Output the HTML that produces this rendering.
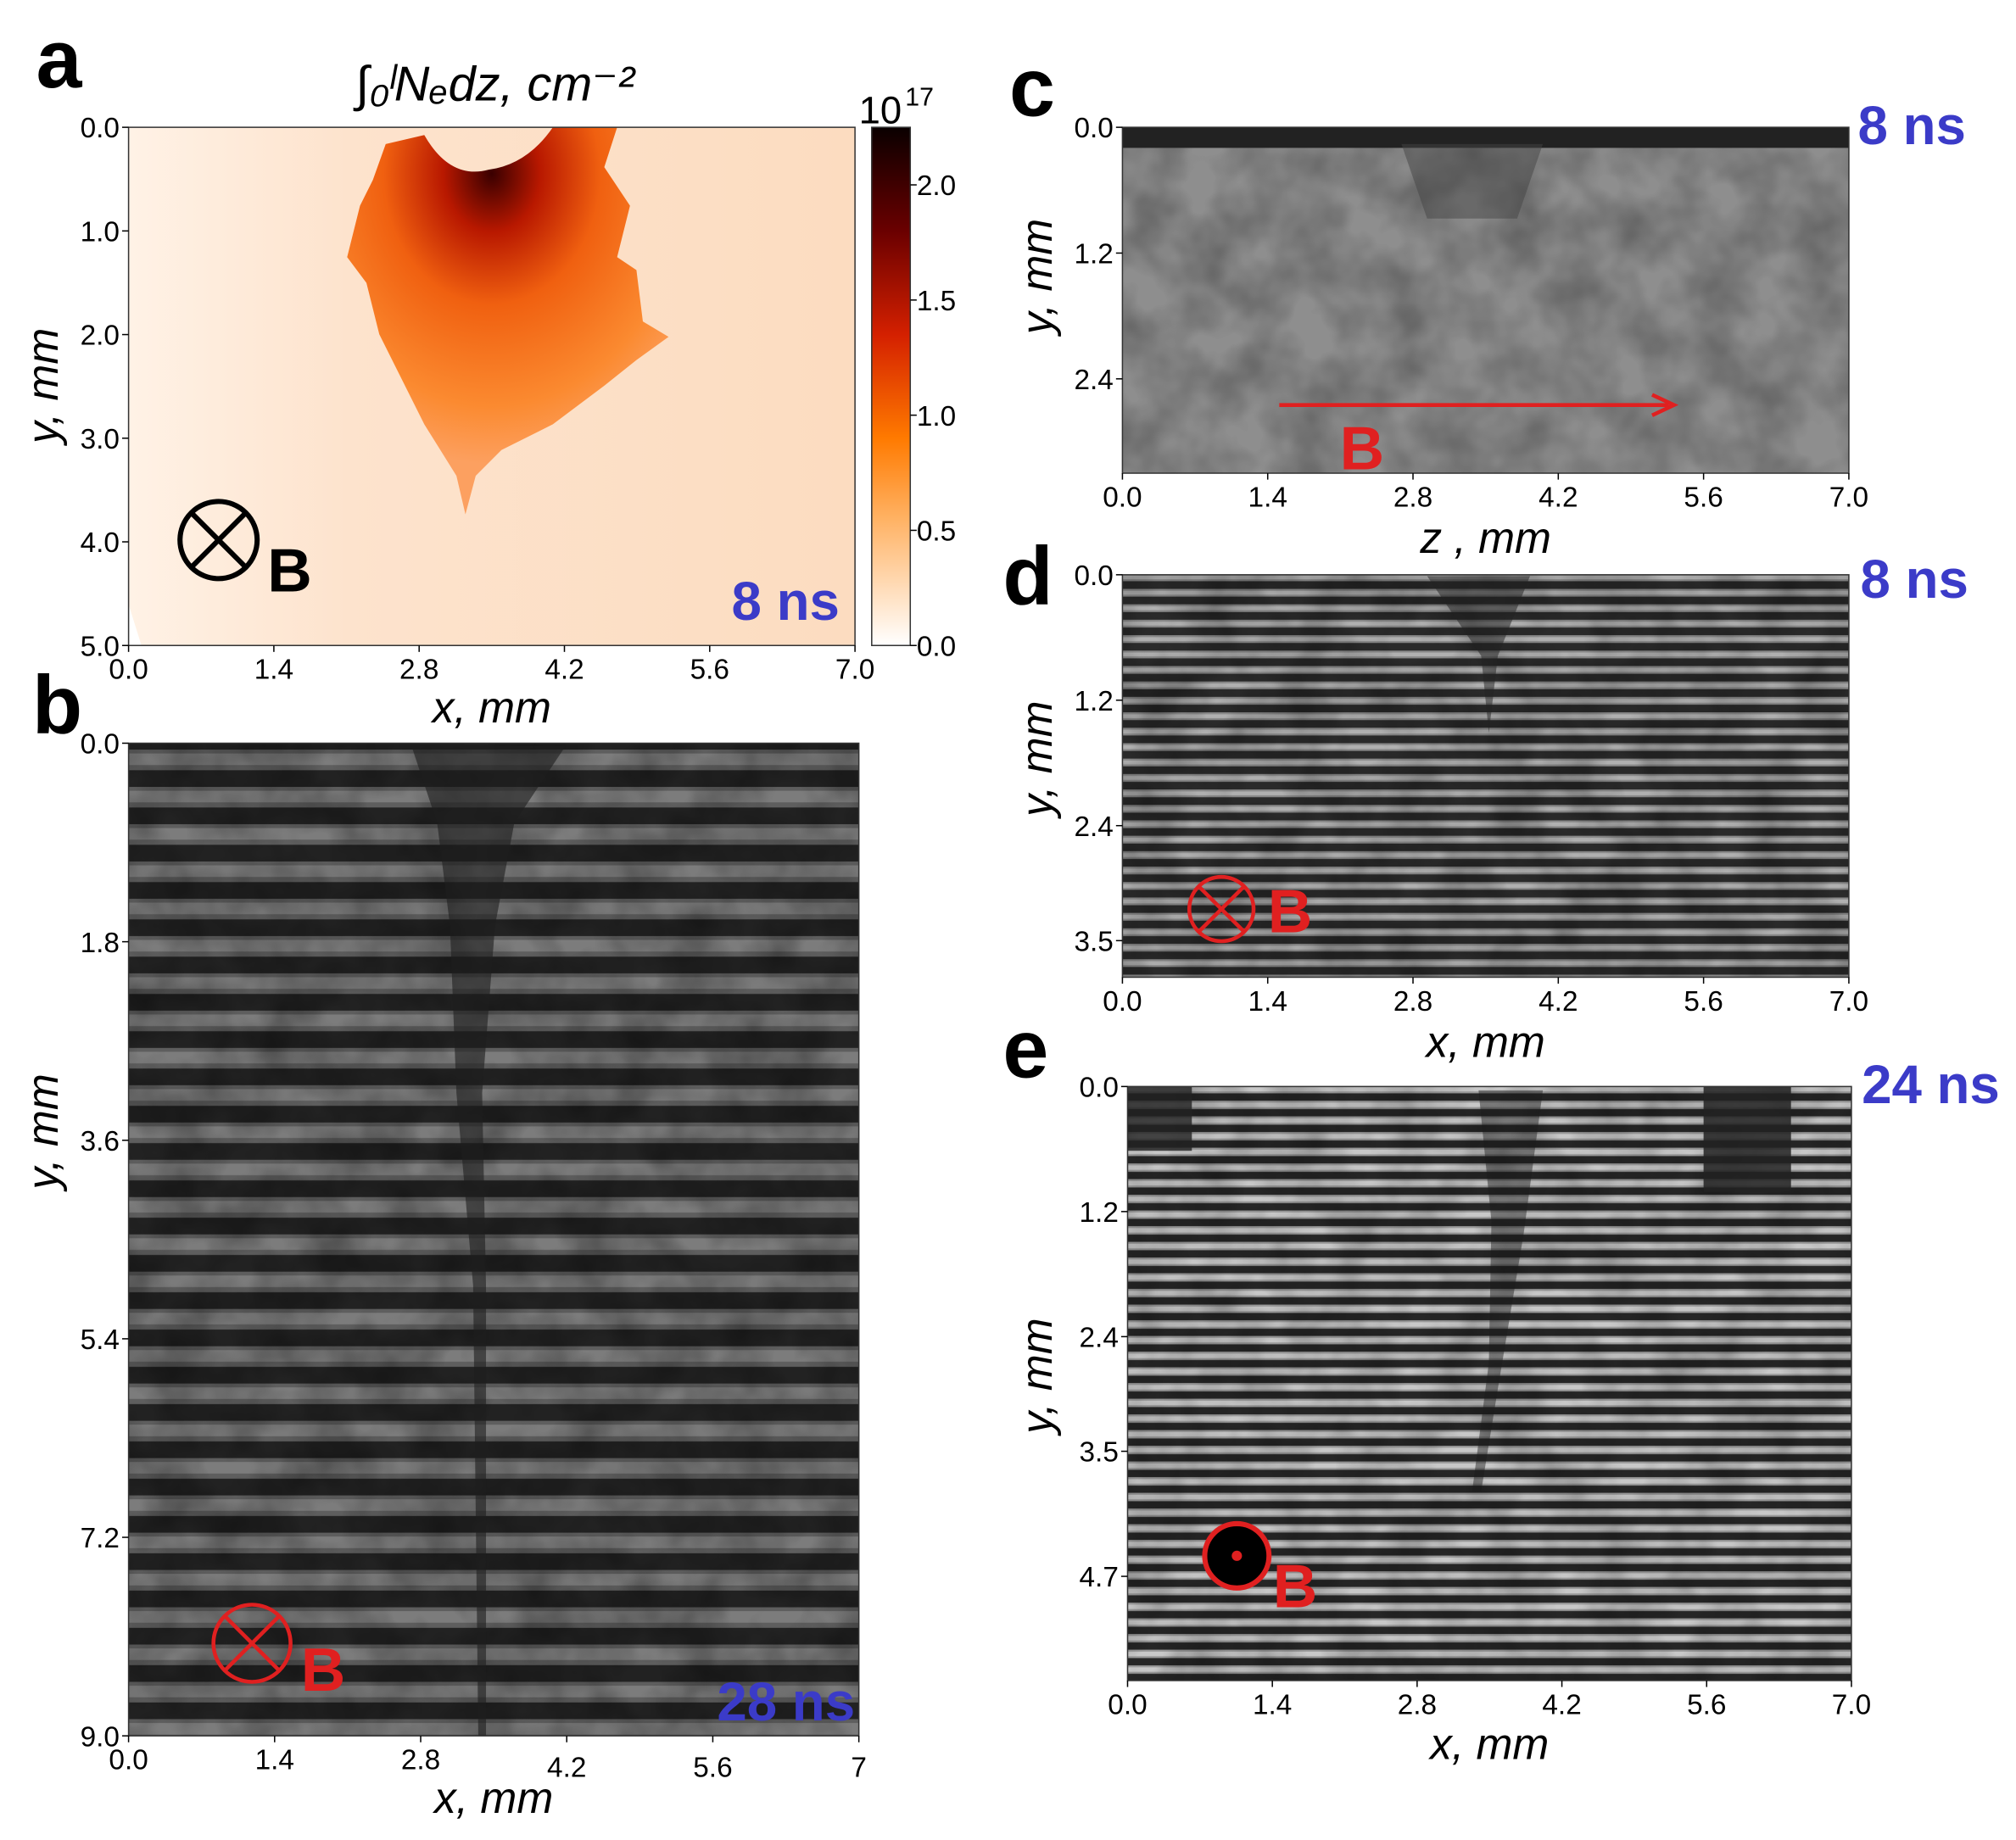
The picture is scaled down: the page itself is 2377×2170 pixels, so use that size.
<!DOCTYPE html>
<html><head><meta charset="utf-8"><style>
html,body{margin:0;padding:0;background:#fff}
svg{display:block}
text{font-family:"Liberation Sans","DejaVu Sans",sans-serif}
</style></head><body>
<svg id="fig" width="2377" height="2170" viewBox="0 0 1568 1431" preserveAspectRatio="none" xmlns="http://www.w3.org/2000/svg">
<defs>
  <linearGradient id="cbar" x1="0" y1="1" x2="0" y2="0">
    <stop offset="0" stop-color="#ffffff"/><stop offset="0.25" stop-color="#ffb060"/>
    <stop offset="0.4" stop-color="#ff7a00"/><stop offset="0.6" stop-color="#d42000"/>
    <stop offset="0.8" stop-color="#6a0000"/><stop offset="1" stop-color="#0a0000"/>
  </linearGradient>
  <radialGradient id="blob" cx="0.45" cy="0.12" r="0.75">
    <stop offset="0" stop-color="#3a0000"/><stop offset="0.2" stop-color="#b81800"/>
    <stop offset="0.45" stop-color="#f06010"/><stop offset="0.8" stop-color="#fb8a30"/>
    <stop offset="1" stop-color="#fca060"/>
  </radialGradient>
  <linearGradient id="bgA" x1="0" y1="0" x2="1" y2="0">
    <stop offset="0" stop-color="#fff2e6"/><stop offset="0.3" stop-color="#fde3cd"/><stop offset="1" stop-color="#fcdcc0"/>
  </linearGradient>
  <pattern id="fb" width="40" height="29" patternUnits="userSpaceOnUse">
    <rect width="40" height="29" fill="#222"/><rect y="3" width="40" height="16" fill="#5e5e5e"/><rect y="6" width="40" height="9" fill="#7c7c7c"/>
  </pattern>
  <pattern id="fd" width="40" height="12" patternUnits="userSpaceOnUse">
    <rect width="40" height="12" fill="#2a2a2a"/><rect y="2" width="40" height="6" fill="#8a8a8a"/><rect y="3.5" width="40" height="3" fill="#b0b0b0"/>
  </pattern>
  <pattern id="fe" width="40" height="12.2" patternUnits="userSpaceOnUse">
    <rect width="40" height="12.2" fill="#262626"/><rect y="2" width="40" height="6.5" fill="#9a9a9a"/><rect y="3.5" width="40" height="3.5" fill="#c8c8c8"/>
  </pattern>
  <filter id="mott2" x="0" y="0" width="1" height="1"><feTurbulence type="fractalNoise" baseFrequency="0.025" numOctaves="3" seed="7"/><feColorMatrix type="matrix" values="0 0 0 0 0 0 0 0 0 0 0 0 0 0 0 1.6 0 0 0 -0.45"/></filter>
</defs>
<g id="root"></g>
</svg>
<script>
const NS="http://www.w3.org/2000/svg";
const root=document.getElementById('root');
// data arrays
const xTicks=[0.0,1.4,2.8,4.2,5.6,7.0];
const xTickLabelsB=['0.0','1.4','2.8','4.2','5.6','7'];
const aYTicks=[0.0,1.0,2.0,3.0,4.0,5.0];
const cbTicks=[0.0,0.5,1.0,1.5,2.0];
const bYTicks=[0.0,1.8,3.6,5.4,7.2,9.0];
const cYTicks=[0.0,1.2,2.4];
const dYTicks=[0.0,1.2,2.4,3.5];
const eYTicks=[0.0,1.2,2.4,3.5,4.7];

function el(tag,attrs,parent,txt){const e=document.createElementNS(NS,tag);for(const k in attrs)e.setAttribute(k,attrs[k]);if(txt!==undefined)e.textContent=txt;(parent||root).appendChild(e);return e;}
function lin(d0,d1,r0,r1){return v=>r0+(v-d0)/(d1-d0)*(r1-r0);}

function axes(p){
  const g=el('g',{});
  
  
  const sx=lin(0,7,p.x0,p.x1), sy=lin(0,p.ymax,p.y0,p.y1);
  el('rect',{x:p.x0,y:p.y0,width:p.x1-p.x0,height:p.y1-p.y0,fill:'none',stroke:'#333','stroke-width':1},g);
  xTicks.forEach((v,i)=>{const x=sx(v);
    el('line',{x1:x,y1:p.y1,x2:x,y2:p.y1+5,stroke:'#000'},g);
    const t=el('text',{x:x,y:p.y1+(p.xlo||26)+(p.xoff?p.xoff[i]:0),'text-anchor':'middle','font-size':22},g,(p.xl||xTicks.map(v=>v.toFixed(1)))[i]);
    
    
  });
  p.yt.forEach(v=>{const y=sy(v);
    el('line',{x1:p.x0-5,y1:y,x2:p.x0,y2:y,stroke:'#000'},g);
    const t=el('text',{x:p.x0-7,y:y+8,'text-anchor':'end','font-size':22},g,v.toFixed(1));
    
    
  });
  const xl=el('text',{x:(p.x0+p.x1)/2,y:p.xly,'text-anchor':'middle','font-size':34,'font-style':'italic'},g,p.xlabel||'x, mm');
  
  
  const yc=p.ylc;
  const yl=el('text',{x:p.ylx,y:yc,'text-anchor':'middle','font-size':34,'font-style':'italic',transform:`rotate(-90 ${p.ylx} ${yc})`},g,'y, mm');
  
  
  return {sx,sy};
}
function label(txt,x,y,name){const t=el('text',{x:x,y:y,'font-size':64,'font-weight':'bold'},root,txt);}
function ns(txt,x,y,anchor){const t=el('text',{x:x,y:y,'font-size':42,'font-weight':'bold',fill:'#3b3bc8','text-anchor':anchor||'start'},root,txt);}

// Panel a
label('a',28,68,'panel-a-label');
const ga=el('g',{});


el('polygon',{points:'100,99 665,99 665,502 110,502 100,470',fill:'url(#bgA)'},ga);
el('path',{d:'M300,112 L330,105 Q350,140 380,132 Q410,128 430,99 L480,99 L470,130 L490,160 L480,200 L495,210 L500,250 L520,262 L495,280 L470,300 L430,330 L390,350 L370,370 L362,400 L355,370 L330,330 L310,290 L295,260 L285,220 L270,200 L280,160 L290,140 Z',fill:'url(#blob)'},ga);
const tt=el('text',{x:385,y:78,'text-anchor':'middle','font-size':38,'font-style':'italic'},root,'∫₀ˡNₑdz, cm⁻²');


axes({name:'panel-a',x0:100,x1:665,y0:99,y1:502,ymax:5,yt:aYTicks,xly:562,ylx:45,ylc:300});
const cb=el('g',{});


el('rect',{x:678,y:99,width:30,height:403,fill:'url(#cbar)',stroke:'#333'},cb);
const scb=lin(0,2.25,502,99);
cbTicks.forEach(v=>{const y=scb(v);el('line',{x1:708,y1:y,x2:713,y2:y,stroke:'#000'},cb);
  const t=el('text',{x:713,y:y+8,'font-size':22},cb,v.toFixed(1));});
el('text',{x:668,y:96,'font-size':30},cb,'10');el('text',{x:704,y:82,'font-size':20},cb,'17');
const ba=el('g',{});
el('circle',{cx:170,cy:420,r:30,fill:'none',stroke:'#000','stroke-width':4},ba);
el('line',{x1:149,y1:399,x2:191,y2:441,stroke:'#000','stroke-width':4},ba);el('line',{x1:191,y1:399,x2:149,y2:441,stroke:'#000','stroke-width':4},ba);
el('text',{x:208,y:460,'font-size':48,'font-weight':'bold'},ba,'B');
ns('8 ns',653,482,'end');

// Panel b
label('b',25,570,'panel-b-label');
const gb=el('g',{});
el('rect',{x:100,y:578,width:568,height:772,fill:'url(#fb)'},gb);
el('rect',{x:100,y:578,width:568,height:772,filter:'url(#mott2)',opacity:0.35},gb);
el('path',{d:'M320,580 L440,580 L400,640 L385,720 L375,850 L378,1000 L378,1350 L372,1350 L368,1000 L355,850 L350,720 L340,640 Z',fill:'#1e1e1e',opacity:0.6},gb);
axes({name:'panel-b',x0:100,x1:668,y0:578,y1:1350,ymax:9,yt:bYTicks,xl:xTickLabelsB,xoff:[0,0,0,6,6,6],xly:1410,ylx:45,ylc:880});
const bb=el('g',{});
el('circle',{cx:196,cy:1278,r:30,fill:'none',stroke:'#e02020','stroke-width':3},bb);
el('line',{x1:175,y1:1257,x2:217,y2:1299,stroke:'#e02020','stroke-width':3},bb);el('line',{x1:217,y1:1257,x2:175,y2:1299,stroke:'#e02020','stroke-width':3},bb);
el('text',{x:234,y:1315,'font-size':48,'font-weight':'bold',fill:'#e02020'},bb,'B');
ns('28 ns',665,1338,'end');

// Panel c
label('c',785,90,'panel-c-label');
const gc=el('g',{});
el('rect',{x:873,y:99,width:565,height:269,fill:'#8e8e8e'},gc);
el('rect',{x:873,y:99,width:565,height:269,filter:'url(#mott2)',opacity:0.3},gc);
el('rect',{x:873,y:99,width:565,height:16,fill:'#222'},gc);
el('path',{d:'M1090,112 L1200,112 L1180,170 L1110,170 Z',fill:'#444',opacity:0.5},gc);
axes({name:'panel-c',x0:873,x1:1438,y0:99,y1:368,ymax:3.3,yt:cYTicks,xly:430,xlabel:'z , mm',ylx:818,ylc:215});
const arr=el('g',{});
el('line',{x1:995,y1:315,x2:1298,y2:315,stroke:'#e02020','stroke-width':3},arr);
el('polyline',{points:'1285,307 1302,315 1285,323',fill:'none',stroke:'#e02020','stroke-width':3},arr);
el('text',{x:1042,y:365,'font-size':48,'font-weight':'bold',fill:'#e02020'},arr,'B');
ns('8 ns',1445,112);

// Panel d
label('d',780,470,'panel-d-label');
const gd=el('g',{});
el('rect',{x:873,y:447,width:565,height:313,fill:'url(#fd)'},gd);
el('rect',{x:873,y:447,width:565,height:313,filter:'url(#mott2)',opacity:0.35},gd);
el('path',{d:'M1110,448 L1190,448 L1165,510 L1158,570 L1152,510 Z',fill:'#222',opacity:0.5},gd);
axes({name:'panel-d',x0:873,x1:1438,y0:447,y1:760,ymax:3.85,yt:dYTicks,xly:822,ylx:818,ylc:590});
const bd=el('g',{});
el('circle',{cx:950,cy:707,r:25,fill:'none',stroke:'#e02020','stroke-width':3},bd);
el('line',{x1:932,y1:689,x2:968,y2:725,stroke:'#e02020','stroke-width':3},bd);el('line',{x1:968,y1:689,x2:932,y2:725,stroke:'#e02020','stroke-width':3},bd);
el('text',{x:986,y:725,'font-size':48,'font-weight':'bold',fill:'#e02020'},bd,'B');
ns('8 ns',1447,465);

// Panel e
label('e',780,838,'panel-e-label');
const ge=el('g',{});
el('rect',{x:877,y:845,width:563,height:462,fill:'url(#fe)'},ge);
el('rect',{x:877,y:845,width:563,height:462,filter:'url(#mott2)',opacity:0.3},ge);
el('rect',{x:1325,y:845,width:68,height:82,fill:'#222',opacity:0.85},ge);
el('rect',{x:877,y:845,width:50,height:50,fill:'#222',opacity:0.8},ge);
el('path',{d:'M1150,848 L1200,848 L1185,960 L1165,1080 L1152,1160 L1145,1160 L1158,1060 L1160,950 Z',fill:'#1a1a1a',opacity:0.45},ge);
axes({name:'panel-e',x0:877,x1:1440,y0:845,y1:1307,ymax:5.7,yt:eYTicks,xly:1368,ylx:818,ylc:1070});
const be=el('g',{});
el('circle',{cx:962,cy:1210,r:25,fill:'#000',stroke:'#e02020','stroke-width':4},be);
el('circle',{cx:962,cy:1210,r:4,fill:'#e02020'},be);
el('text',{x:990,y:1250,'font-size':48,'font-weight':'bold',fill:'#e02020'},be,'B');
ns('24 ns',1448,858);
</script>
</body></html>
